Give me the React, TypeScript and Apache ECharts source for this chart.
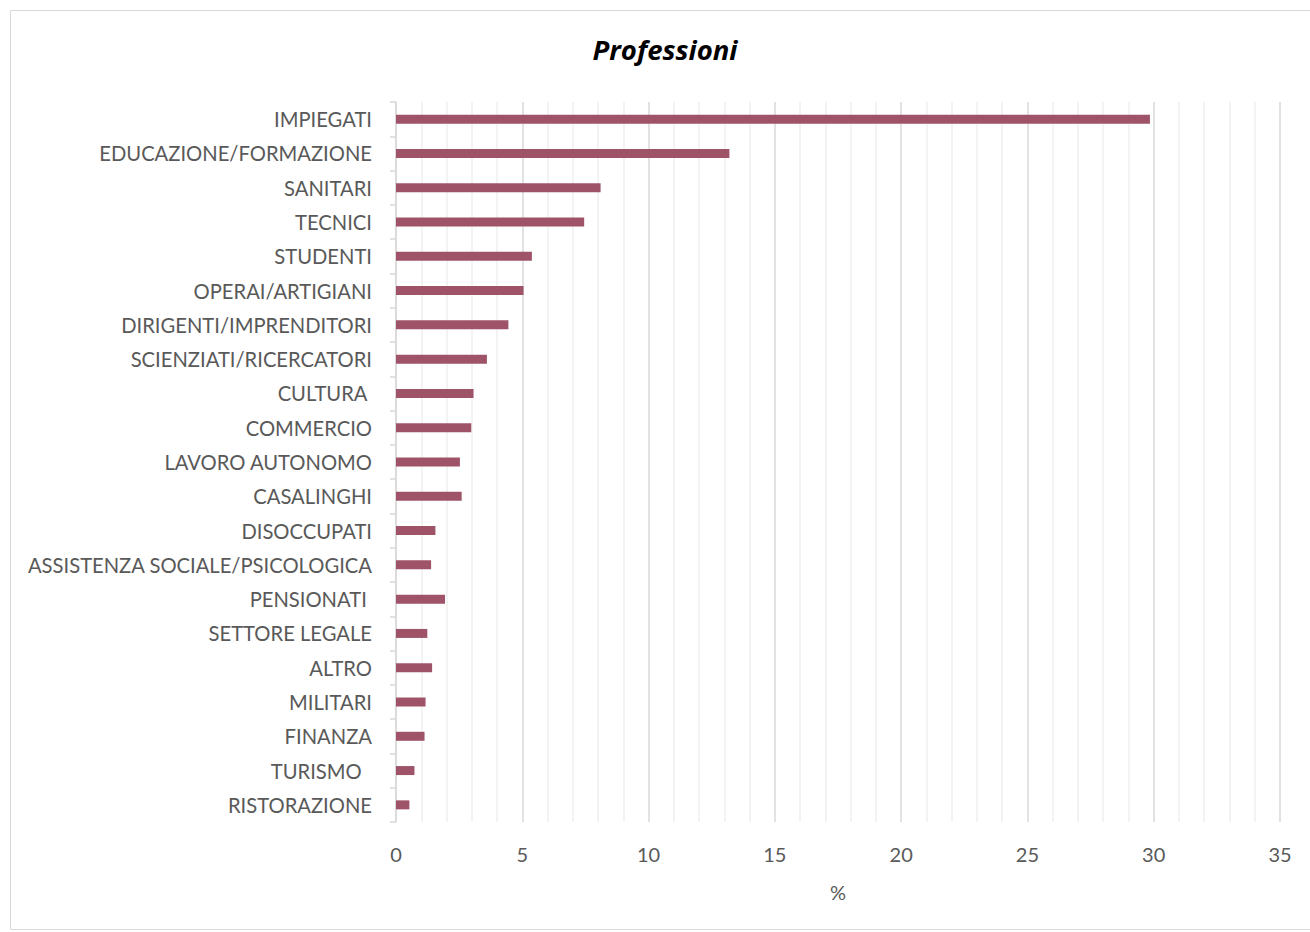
import React, { useEffect, useRef } from "react";
import * as echarts from "echarts";

const categories = [
  "IMPIEGATI",
  "EDUCAZIONE/FORMAZIONE",
  "SANITARI",
  "TECNICI",
  "STUDENTI",
  "OPERAI/ARTIGIANI",
  "DIRIGENTI/IMPRENDITORI",
  "SCIENZIATI/RICERCATORI",
  "CULTURA ",
  "COMMERCIO",
  "LAVORO AUTONOMO",
  "CASALINGHI",
  "DISOCCUPATI",
  "ASSISTENZA SOCIALE/PSICOLOGICA",
  "PENSIONATI ",
  "SETTORE LEGALE",
  "ALTRO",
  "MILITARI",
  "FINANZA",
  "TURISMO  ",
  "RISTORAZIONE",
];

const values = [
  29.85, 13.2, 8.1, 7.45, 5.38, 5.05, 4.45, 3.6, 3.07, 2.98, 2.53, 2.6, 1.56,
  1.39, 1.94, 1.24, 1.43, 1.17, 1.13, 0.73, 0.53,
];

const xTicks = { min: 0, max: 35, interval: 5 };
const titleText = "Professioni";
const axisName = "%";

export default function App() {
  const ref = useRef<HTMLDivElement>(null);
  useEffect(() => {
    document.body.style.margin = "0";
    const chart = echarts.init(ref.current!, null, { renderer: "svg" });
    const titleFont = "'Open Sans', Lato, sans-serif";
    const font = "Lato, 'Open Sans', sans-serif";
    chart.setOption({
      animation: false,
      textStyle: { fontFamily: font },
      graphic: [
        {
          type: "rect",
          shape: { x: 10.5, y: 10.5, width: 1310, height: 919 },
          style: { fill: "none", stroke: "#d9d9d9", lineWidth: 1 },
          silent: true,
        },
      ],
      title: {
        text: titleText,
        left: 660,
        top: 31,
        textAlign: "center",
        textStyle: {
          fontFamily: titleFont,
          fontSize: 27.5,
          fontWeight: "bold",
          fontStyle: "italic",
          color: "#000",
        },
      },
      grid: { left: 396, right: 30, top: 102, bottom: 110, containLabel: false },
      xAxis: {
        type: "value",
        min: xTicks.min,
        max: xTicks.max,
        interval: xTicks.interval,
        name: axisName,
        nameLocation: "middle",
        nameGap: 60,
        nameTextStyle: { fontSize: 20, color: "#595959", fontFamily: font },
        axisLine: { show: false },
        axisTick: { show: false },
        axisLabel: { fontSize: 20, color: "#595959", margin: 22, fontFamily: font },
        splitLine: { show: true, lineStyle: { color: "#d9d9d9", width: 1.5 } },
        minorTick: { show: false, splitNumber: 5 },
        minorSplitLine: { show: true, lineStyle: { color: "#efefef", width: 1.5 } },
      },
      yAxis: {
        type: "category",
        data: categories,
        inverse: true,
        axisLine: { show: true, lineStyle: { color: "#d9d9d9", width: 1.5 } },
        axisTick: { show: true, length: 6, lineStyle: { color: "#d9d9d9", width: 1.5 } },
        axisLabel: { fontSize: 20.2, color: "#595959", margin: 24, fontFamily: font },
        splitLine: { show: false },
      },
      series: [
        {
          type: "bar",
          data: values,
          barWidth: 9,
          itemStyle: { color: "#9e5368" },
        },
      ],
    });
    return () => chart.dispose();
  }, []);
  return <div ref={ref} style={{ width: 1310, height: 932 }} />;
}
